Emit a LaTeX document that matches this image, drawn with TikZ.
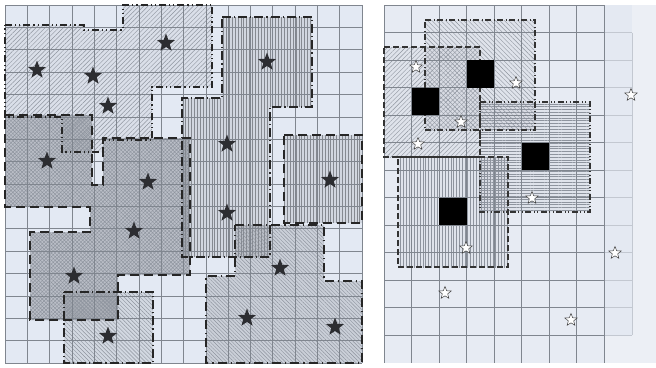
\documentclass[tikz,border=0pt]{standalone}
\usetikzlibrary{patterns.meta,shapes.geometric}
\definecolor{bgL}{HTML}{E3E9F3}
\definecolor{bgR}{HTML}{E4E9F2}
\definecolor{bgRo}{HTML}{ECEFF5}
\definecolor{gridc}{HTML}{80868F}
\definecolor{gridlt}{HTML}{C3C8D1}
\definecolor{hatchc}{HTML}{8E949E}
\definecolor{hatchd}{HTML}{858990}
\definecolor{starc}{HTML}{2C2D31}
\begin{document}
\begin{tikzpicture}[x=1pt,y=-1pt,
  gl/.style={draw=gridc, line width=0.55pt},
  glt/.style={draw=gridlt, line width=0.55pt},
  bA/.style={draw=black!85, line width=1.5pt, dash pattern=on 7pt off 3pt on 1.2pt off 3pt on 1.2pt off 3pt},
  bC/.style={draw=black!85, line width=1.6pt, dash pattern=on 9pt off 5pt},
  bB/.style={draw=black!85, line width=1.5pt, dash pattern=on 9pt off 3pt on 1.2pt off 3pt},
  bE/.style={draw=black!85, line width=1.5pt, dash pattern=on 9pt off 4pt on 1.2pt off 4pt},
  rD/.style={draw=black!80, line width=1.1pt, dash pattern=on 6pt off 3pt},
  rDD/.style={draw=black!80, line width=1.1pt, dash pattern=on 6pt off 2.5pt on 1pt off 2.5pt},
  rDDD/.style={draw=black!80, line width=1.1pt, dash pattern=on 6pt off 2.5pt on 1pt off 2.5pt on 1pt off 2.5pt},
  bigstar/.style={star, star points=5, star point ratio=2.4, minimum size=19pt, inner sep=0pt, fill=starc},
  smallstar/.style={star, star points=5, star point ratio=2.3, minimum size=13pt, inner sep=0pt, draw=black!75, line width=0.5pt, fill=white},
  blk/.style={fill=black}
]
\useasboundingbox (0,0) rectangle (656,367);
\fill[white] (0,0) rectangle (656,367);

% ================= LEFT PANEL =================
\fill[bgL] (5,5) rectangle (362,363);

\def\pthA{(5,25) -- (84,25) -- (84,30) -- (123,30) -- (123,5) -- (212,5) -- (212,87) -- (152,87) -- (152,140) -- (103,140) -- (103,152) -- (62,152) -- (62,117) -- (5,117) -- cycle}
\def\pthC{(5,115) -- (92,115) -- (92,185) -- (103,185) -- (103,138) -- (190,138) -- (190,275) -- (118,275) -- (118,320) -- (30,320) -- (30,232) -- (90,232) -- (90,207) -- (5,207) -- cycle}
\def\pthB{(222,17) -- (312,17) -- (312,107) -- (270,107) -- (270,257) -- (182,257) -- (182,98) -- (222,98) -- cycle}
\def\pthD{(284,135) -- (362,135) -- (362,223) -- (284,223) -- cycle}
\def\pthE{(235,225) -- (324,225) -- (324,281) -- (362,281) -- (362,363) -- (206,363) -- (206,276) -- (235,276) -- cycle}
\def\pthF{(64,292) -- (153,292) -- (153,363) -- (64,363) -- cycle}

% fills
\fill[black, fill opacity=0.04] \pthA;
\fill[black, fill opacity=0.18] \pthC;
\fill[black, fill opacity=0.08] \pthB;
\fill[black, fill opacity=0.08] \pthD;
\fill[black, fill opacity=0.11] \pthE;
\fill[black, fill opacity=0.07] \pthF;
% patterns
\fill[pattern={Lines[angle=45,distance=3.2pt,line width=0.45pt]}, pattern color=hatchc] \pthA;
\fill[pattern={Hatch[angle=45,distance=2.6pt,line width=0.45pt]}, pattern color=hatchc] \pthC;
\fill[pattern={Lines[angle=90,distance=2.9pt,line width=0.4pt]}, pattern color=hatchd] \pthB;
\fill[pattern={Lines[angle=90,distance=2.9pt,line width=0.4pt]}, pattern color=hatchd] \pthD;
\fill[pattern={Lines[angle=-45,distance=2.6pt,line width=0.45pt]}, pattern color=hatchc] \pthE;
\fill[pattern={Lines[angle=-45,distance=2.8pt,line width=0.45pt]}, pattern color=hatchc] \pthF;

% grid
\foreach \i in {0,...,16} {
  \draw[gl] ({5+\i*22.3125},5) -- ({5+\i*22.3125},363);
  \draw[gl] (5,{5+\i*22.375}) -- (362,{5+\i*22.375});
}

% borders
\draw[bA] \pthA;
\draw[bC] \pthC;
\draw[bB] \pthB;
\draw[bC] \pthD;
\draw[bE] \pthE;
\draw[bB] \pthF;

% stars
\node[bigstar] (s1) at (166,43) {};
\node[bigstar] (s2) at (37,70) {};
\node[bigstar] (s3) at (93,76) {};
\node[bigstar] (s4) at (108,106) {};
\node[bigstar] (s5) at (267,62) {};
\node[bigstar] (s6) at (47,161) {};
\node[bigstar] (s7) at (148,182) {};
\node[bigstar] (s8) at (227,144) {};
\node[bigstar] (s9) at (134,231) {};
\node[bigstar] (s10) at (227,213) {};
\node[bigstar] (s11) at (330,180) {};
\node[bigstar] (s12) at (74,276) {};
\node[bigstar] (s13) at (280,268) {};
\node[bigstar] (s14) at (247,318) {};
\node[bigstar] (s15) at (335,327) {};
\node[bigstar] (s16) at (108,336) {};

% ================= RIGHT PANEL =================
\fill[bgRo] (384,5) rectangle (656,363);
\fill[bgR] (384,5) rectangle (632,336);
\fill[bgR!70!bgRo] (384,5) rectangle (604,363);

\def\pthRa{(384,47) -- (480,47) -- (480,157) -- (384,157) -- cycle}
\def\pthRb{(425,20) -- (535,20) -- (535,130) -- (425,130) -- cycle}
\def\pthRc{(480,102) -- (590,102) -- (590,212) -- (480,212) -- cycle}
\def\pthRd{(398,157) -- (508,157) -- (508,267) -- (398,267) -- cycle}

\fill[black, fill opacity=0.03] \pthRa;
\fill[black, fill opacity=0.03] \pthRb;
\fill[black, fill opacity=0.03] \pthRc;
\fill[black, fill opacity=0.03] \pthRd;
\fill[pattern={Lines[angle=45,distance=3.2pt,line width=0.4pt]}, pattern color=hatchc] \pthRa;
\fill[pattern={Lines[angle=-45,distance=3.2pt,line width=0.4pt]}, pattern color=hatchc] \pthRb;
\fill[pattern={Lines[angle=0,distance=2.8pt,line width=0.4pt]}, pattern color=hatchc] \pthRc;
\fill[pattern={Lines[angle=90,distance=2.8pt,line width=0.4pt]}, pattern color=hatchc] \pthRd;

% light outer grid
\foreach \j in {1,...,12} \draw[glt] (604,{5+\j*27.5}) -- (632,{5+\j*27.5});
\draw[glt] (632,32.5) -- (632,335);
% main grid
\foreach \i in {0,...,8} \draw[gl] ({384+\i*27.5},5) -- ({384+\i*27.5},363);
\foreach \j in {0,...,12} \draw[gl] (384,{5+\j*27.5}) -- (604,{5+\j*27.5});

\draw[rD] \pthRa;
\draw[rDD] \pthRb;
\draw[rDDD] \pthRc;
\draw[rD] \pthRd;

% black cells
\fill[blk] (411.5,87.5) rectangle (439,115);
\fill[blk] (466.5,60) rectangle (494,87.5);
\fill[blk] (521.5,142.5) rectangle (549,170);
\fill[blk] (439,197.5) rectangle (466.5,225);

% hollow stars
\node[smallstar] (h1) at (416,67) {};
\node[smallstar] (h2) at (516,83) {};
\node[smallstar] (h3) at (461,122) {};
\node[smallstar] (h4) at (418,144) {};
\node[smallstar] (h5) at (631,95) {};
\node[smallstar] (h6) at (532,198) {};
\node[smallstar] (h7) at (466,248) {};
\node[smallstar] (h8) at (615,253) {};
\node[smallstar] (h9) at (445,293) {};
\node[smallstar] (h10) at (571,320) {};
\end{tikzpicture}
\end{document}
